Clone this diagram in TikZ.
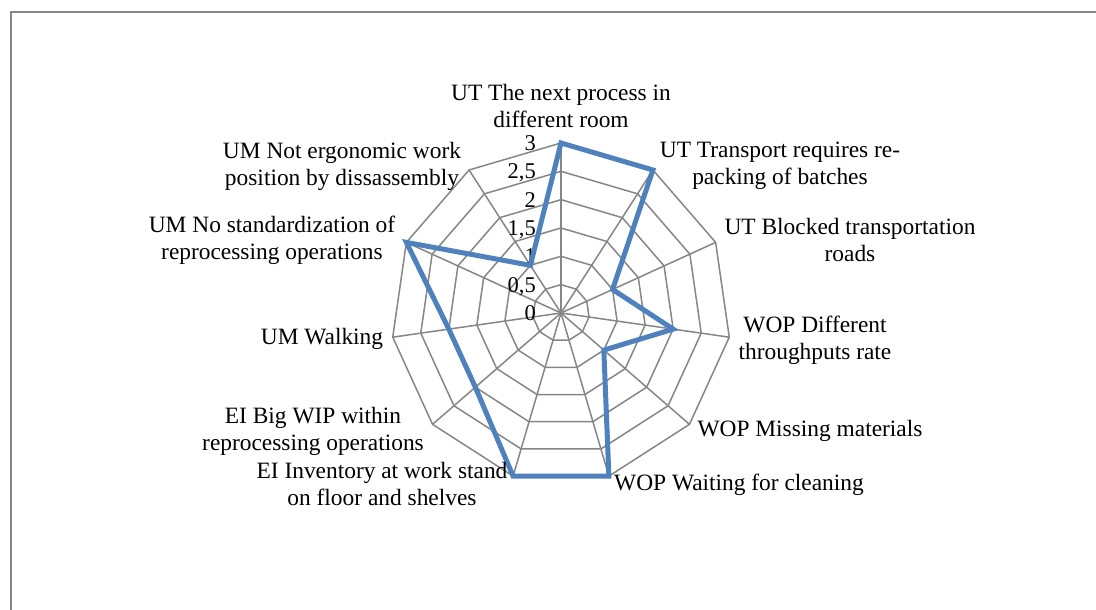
\documentclass[tikz,border=0pt]{standalone}
\usepackage{fontspec}
\setmainfont{Liberation Serif}
\definecolor{gridgray}{HTML}{868686}
\definecolor{serblue}{HTML}{4F81BD}
\tikzset{
	axislabel/.style={font=\fontsize{23.4}{27}\selectfont, align=center, inner sep=0pt},
	ticklabel/.style={font=\fontsize{22.5}{27}\selectfont, anchor=base east, inner sep=0pt},
	gridline/.style={draw=gridgray, line width=1.5pt},
	series/.style={draw=serblue, line width=5pt, line join=miter}
}
\begin{document}
\begin{tikzpicture}[x=1pt,y=1pt]
		\useasboundingbox (0,0) rectangle (1096,610);
		\clip (0,0) rectangle (1096,610);
		
		% Frame
		\draw[draw=gridgray, line width=2pt] (11,-10) rectangle (1110,598);
		
		\begin{scope}[shift={(561,297)}]
		% Rings
		\foreach \r in {1,...,6} {
			\draw[gridline] (90:\r*28.333) \foreach \k in {1,...,10} { -- (90-\k*360/11:\r*28.333) } -- cycle;
		}
		
		% Spokes
		\foreach \k in {0,...,10}
			\draw[gridline] (0,0) -- (90-\k*360/11:170);
		
		% Scale
		\foreach \t/\lab in {0/0, 1/{0,5}, 2/1, 3/{1,5}, 4/2, 5/{2,5}, 6/3}
			\node[ticklabel] (tick\t) at (-25,\t*28.333-7.5) {\lab};
		
		% Series
		\foreach \v [count=\k from 0] in {3,3,1,2,1,3,3,2,2,3,1}
			\coordinate (p\k) at (90-\k*360/11:\v*56.667);
		\draw[series] (p0) -- (p1) -- (p2) -- (p3) -- (p4) -- (p5) -- (p6) -- (p7) -- (p8) -- (p9) -- (p10) -- cycle;
		\end{scope}
		
		% Axis labels
		\node[axislabel] (lblNext) at (561,504) {UT The next process in\\different room};
		\node[axislabel] (lblRepack) at (780,444) {UT Transport requires re-\\packing of batches};
		\node[axislabel] (lblRoads) at (850,370) {UT Blocked transportation\\roads};
		\node[axislabel] (lblRate) at (815,269.5) {WOP Different\\throughputs rate};
		\node[axislabel, anchor=base] (lblMaterials) at (810,173) {WOP Missing materials};
		\node[axislabel, anchor=base] (lblCleaning) at (739,119) {WOP Waiting for cleaning};
		\node[axislabel] (lblInventory) at (382,125.5) {EI Inventory at work stand\\on floor and shelves};
		\node[axislabel] (lblWip) at (313,179) {EI Big WIP within\\reprocessing operations};
		\node[axislabel, anchor=base] (lblWalking) at (322,265) {UM Walking};
		\node[axislabel] (lblStandard) at (272,370) {UM No standardization of\\reprocessing operations};
		\node[axislabel] (lblErgo) at (342,444) {UM Not ergonomic work\\position by dissassembly};
	\end{tikzpicture}
\end{document}
